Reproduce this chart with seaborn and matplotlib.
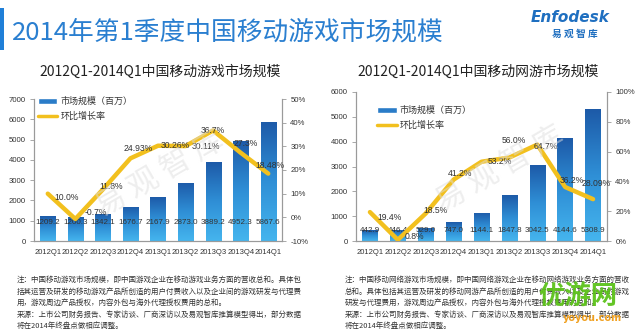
import numpy as np
import matplotlib
matplotlib.use("Agg")
import matplotlib.pyplot as plt
import seaborn as sns
from matplotlib.lines import Line2D
from matplotlib.patches import Rectangle

sns.set_style("white")
plt.rcParams['font.family'] = ['Noto Sans CJK SC', 'DejaVu Sans']

quarters = ["2012Q1", "2012Q2", "2012Q3", "2012Q4", "2013Q1",
            "2013Q2", "2013Q3", "2013Q4", "2014Q1"]

game_market = [1209.2, 1200.3, 1342.1, 1676.7, 2167.9, 2873.0, 3889.2, 4952.3, 5867.6]
game_growth = [10.0, -0.7, 11.8, 24.93, 30.26, 30.11, 36.7, 27.3, 18.48]
game_growth_labels = ["10.0%", "-0.7%", "11.8%", "24.93%", "30.26%", "30.11%", "36.7%", "27.3%", "18.48%"]

online_market = [442.9, 446.4, 529.0, 747.0, 1144.1, 1847.8, 3042.5, 4144.6, 5308.9]
online_growth = [19.4, 0.8, 18.5, 41.2, 53.2, 56.0, 64.7, 36.2, 28.09]
online_growth_labels = ["19.4%", "0.8%", "18.5%", "41.2%", "53.2%", "56.0%", "64.7%", "36.2%", "28.09%"]

main_title = "2014年第1季度中国移动游戏市场规模"
left_title = "2012Q1-2014Q1中国移动游戏市场规模"
right_title = "2012Q1-2014Q1中国移动网游市场规模"
legend_bar = "市场规模（百万）"
legend_line = "环比增长率"

left_note = ("注：中国移动游戏市场规模，即中国游戏企业在移动游戏业务方面的营收总和。具体包\n"
             "括其运营及研发的移动游戏产品所创造的用户付费收入以及企业间的游戏研发与代理费\n"
             "用，游戏周边产品授权，内容外包与海外代理授权费用的总和。\n"
             "来源：上市公司财务报告、专家访谈、厂商深访以及易观智库推算模型得出，部分数据\n"
             "将在2014年终盘点做相应调整。")
right_note = ("注：中国移动网络游戏市场规模，即中国网络游戏企业在移动网络游戏业务方面的营收\n"
              "总和。具体包括其运营及研发的移动网游产品所创造的用户付费收入以及企业间的游戏\n"
              "研发与代理费用，游戏周边产品授权，内容外包与海外代理授权费用的总和。\n"
              "来源：上市公司财务报告、专家访谈、厂商深访以及易观智库推算模型得出，部分数据\n"
              "将在2014年终盘点做相应调整。")

W, H = 640, 336
fig = plt.figure(figsize=(6.4, 3.36), dpi=100)
fig.patch.set_facecolor("white")

def fx(px):
    return px / W

def fy(py):
    return 1 - py / H

NUMFONT = "Liberation Sans"
LINE_COLOR = "#f2c01e"
SPINE = "#9a9a9a"
grad = np.linspace(0, 1, 256).reshape(-1, 1)
cmap = matplotlib.colors.LinearSegmentedColormap.from_list("b", ["#1d5aa8", "#2f8fd6", "#45b5ee"])


def draw_chart(rect, values, growth, glabels, ymax, ystep, rlim, rstep, title, title_x,
               offsets, vlabel_y, legend_pos):
    ax = fig.add_axes(rect)
    sns.barplot(x=quarters, y=values, ax=ax, color="#2a7cc8", width=0.55,
                edgecolor="none", saturation=1)
    ax.set_ylim(0, ymax)
    ax.set_yticks(np.arange(0, ymax + 1, ystep))
    ax.set_xlim(-0.5, len(quarters) - 0.5)
    for p in ax.patches:
        x0, y0 = p.get_x(), p.get_y()
        w, h = p.get_width(), p.get_height()
        im = ax.imshow(grad, extent=[x0, x0 + w, y0, y0 + h], aspect="auto",
                       cmap=cmap, origin="upper", zorder=2)
        im.set_clip_path(p)
        p.set_facecolor("none")
    ax.set_xlim(-0.5, len(quarters) - 0.5)
    ax.set_ylim(0, ymax)
    for i, v in enumerate(values):
        ax.text(i, vlabel_y, f"{v:.1f}", transform=ax.get_xaxis_transform(),
                ha="center", va="center", fontsize=5.8, color="#333333",
                family=NUMFONT, zorder=5)
    ax2 = ax.twinx()
    sns.lineplot(x=np.arange(len(quarters)), y=growth, ax=ax2, color=LINE_COLOR,
                 linewidth=3.2, solid_joinstyle="round", solid_capstyle="round", zorder=4)
    ax2.set_ylim(*rlim)
    ax2.set_yticks(np.arange(rlim[0], rlim[1] + 0.1, rstep))
    ax2.set_yticklabels([f"{int(t)}%" for t in np.arange(rlim[0], rlim[1] + 0.1, rstep)])
    for i, (g, lab) in enumerate(zip(growth, glabels)):
        dx, dy = offsets[i]
        ax2.annotate(lab, (i, g), xytext=(dx * 0.72, dy * 0.72), textcoords="offset points",
                     ha="center", va="center", fontsize=6.2, color="#333333",
                     family=NUMFONT, zorder=6)
    for a in (ax, ax2):
        a.set_xlabel("")
        a.set_ylabel("")
        a.spines["top"].set_visible(False)
        for s in ("left", "right", "bottom"):
            a.spines[s].set_color(SPINE)
            a.spines[s].set_linewidth(0.8)
        a.tick_params(axis="both", labelsize=5.6, colors="#333333", length=3, width=0.6,
                      color=SPINE, pad=3)
    ax.tick_params(axis="x", length=0, pad=6, labelsize=5.5)
    for t in ax.get_xticklabels() + ax.get_yticklabels() + ax2.get_yticklabels():
        t.set_family(NUMFONT)
    fig.text(fx(title_x), fy(72), title, fontsize=10, color="#222222",
             ha="center", va="center")
    lx, ly = legend_pos
    handles = [Rectangle((0, 0), 1, 1, facecolor="#2a7cc8"),
               Line2D([0], [0], color=LINE_COLOR, linewidth=2.5)]
    leg = ax.legend(handles, [legend_bar, legend_line], loc="upper left",
                    bbox_to_anchor=(lx, ly), frameon=False, fontsize=6.5,
                    handlelength=2.2, handleheight=0.5, handletextpad=0.3,
                    labelspacing=0.6, borderaxespad=0)
    for t in leg.get_texts():
        t.set_color("#333333")
    return ax, ax2

left_offsets = [(19, -4), (20, 6), (8, 3), (8, 10), (17, 0), (20, 0), (0, 0), (5, 9), (2, 8)]
right_offsets = [(20, -5), (17, 3), (10, 3), (6, 6), (18, 0), (4, 17), (8, -2), (7, 7), (3, 16)]

draw_chart([fx(34), fy(241), fx(282 - 34), (241 - 99) / H], game_market, game_growth,
           game_growth_labels, 7000, 1000, (-10, 50), 10, left_title, 160,
           left_offsets, 0.13, (0.0, 1.04))
draw_chart([fx(356), fy(241), fx(607 - 356), (241 - 92) / H], online_market, online_growth,
           online_growth_labels, 6000, 1000, (0, 100), 20, right_title, 478,
           right_offsets, 0.07, (0.07, 0.93))

# header
fig.patches.append(Rectangle((0, fy(50)), fx(4), (50 - 8) / H, transform=fig.transFigure,
                             facecolor="#1f7fd8", edgecolor="none"))
fig.text(fx(12), fy(32), main_title, fontsize=18.5, color="#2a7fd0", va="center", ha="left")
fig.text(fx(570), fy(17), "Enfodesk", fontsize=11, color="#1f6fc0", style="italic",
         weight="bold", ha="center", va="center", family="DejaVu Sans")
fig.text(fx(575), fy(34), "易 观 智 库", fontsize=7, color="#1f6fc0", weight="bold",
         ha="center", va="center")

# watermarks
for (x, y) in [(160, 175), (500, 170)]:
    fig.text(fx(x), fy(y), "易 观 智 库", fontsize=22, color="#dddddd", alpha=0.5,
             rotation=30, ha="center", va="center", zorder=0)

# notes
fig.text(fx(17), fy(276), left_note, fontsize=5.4, color="#333333", va="top", ha="left",
         linespacing=1.6)
fig.text(fx(345), fy(276), right_note, fontsize=5.4, color="#333333", va="top", ha="left",
         linespacing=1.6)

# yoyou mark
fig.text(fx(578), fy(296), "优游网", fontsize=19, color="#5cc21a", weight="bold",
         ha="center", va="center", alpha=0.95)
fig.text(fx(592), fy(318), "yoyou.com", fontsize=7, color="#f0a020", weight="bold",
         ha="center", va="center", family="DejaVu Sans")

fig.savefig("out.png", dpi=100, facecolor="white")
